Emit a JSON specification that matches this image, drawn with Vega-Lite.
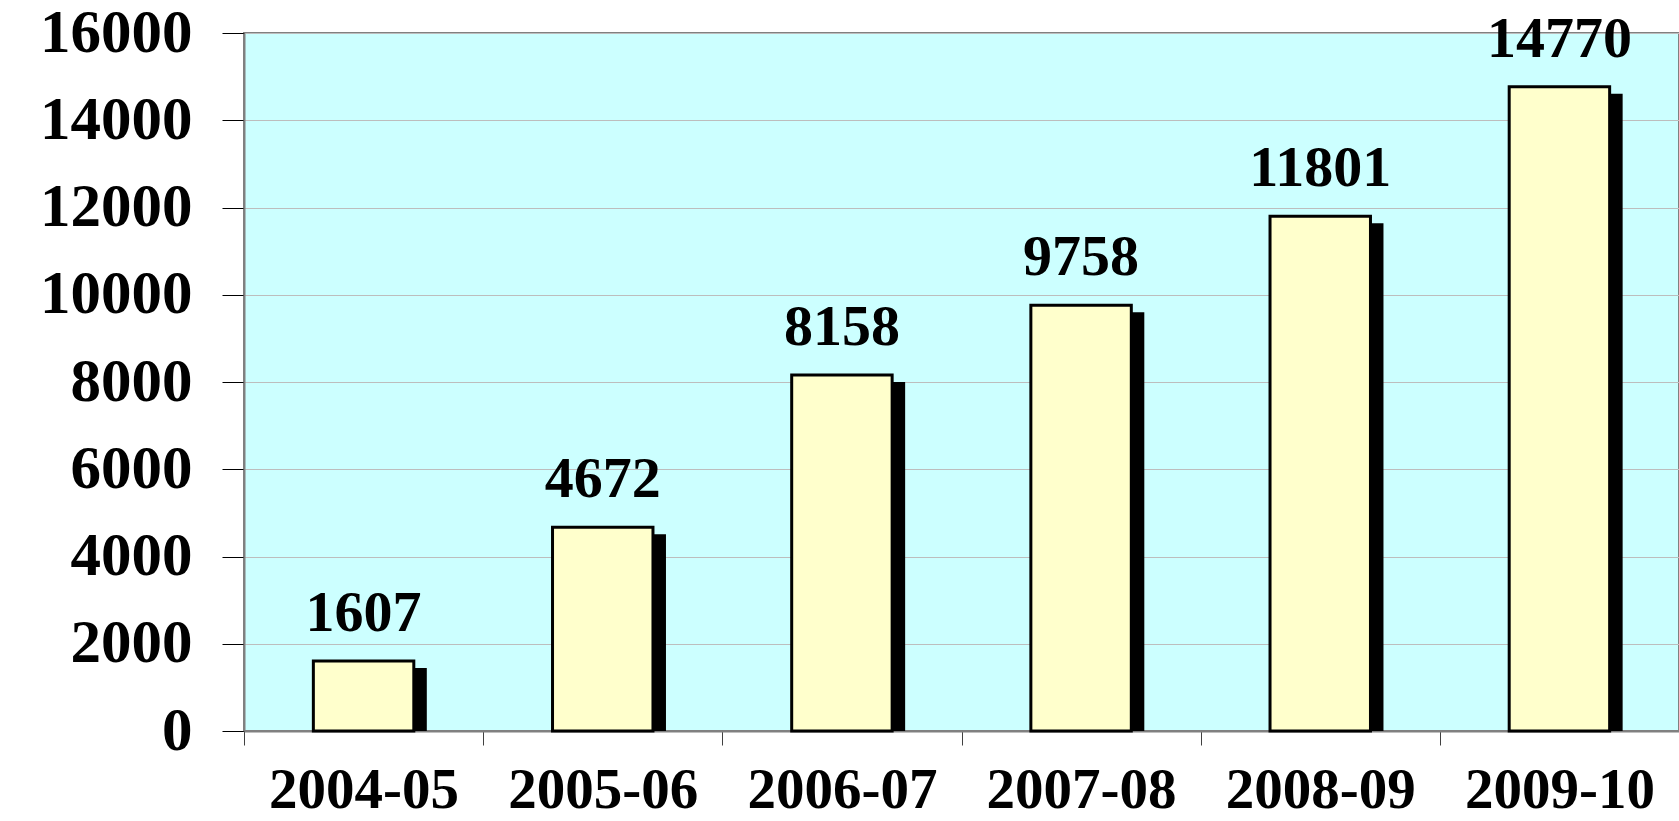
{
  "$schema": "https://vega.github.io/schema/vega-lite/v6.json",
  "width": 1435,
  "height": 698,
  "autosize": {"type": "none"},
  "padding": {"left": 244, "top": 33, "right": 0, "bottom": 90},
  "background": "white",
  "config": {
    "view": {"fill": "#CCFFFF", "stroke": "#808080", "strokeWidth": 2},
    "font": "Liberation Serif"
  },
  "data": {
    "values": [
      {"year": "2004-05", "value": 1607},
      {"year": "2005-06", "value": 4672},
      {"year": "2006-07", "value": 8158},
      {"year": "2007-08", "value": 9758},
      {"year": "2008-09", "value": 11801},
      {"year": "2009-10", "value": 14770}
    ]
  },
  "encoding": {
    "x": {
      "field": "year", "type": "nominal", "sort": null,
      "scale": {"paddingInner": 0, "paddingOuter": 0},
      "axis": {
        "title": null, "labelAngle": 0, "tickBand": "extent", "labelLimit": 0,
        "labelFont": "Liberation Serif", "labelFontWeight": "bold", "labelFontSize": 57, "labelColor": "black",
        "labelBaseline": "alphabetic", "labelPadding": 62, "tickSize": 14, "tickColor": "#404040", "tickWidth": 1,
        "domainColor": "#808080", "domainWidth": 2
      }
    },
    "y": {
      "field": "value", "type": "quantitative",
      "scale": {"domain": [0, 16000], "nice": false},
      "axis": {
        "title": null, "values": [0, 2000, 4000, 6000, 8000, 10000, 12000, 14000, 16000],
        "format": "d", "labelLimit": 0,
        "labelFont": "Liberation Serif", "labelFontWeight": "bold", "labelFontSize": 61, "labelColor": "black",
        "labelPadding": 30, "tickSize": 22, "tickColor": "black", "tickWidth": 1,
        "domainColor": "#808080", "domainWidth": 2,
        "grid": true, "gridColor": "#BDBDBD", "gridWidth": 1
      }
    }
  },
  "layer": [
    {
      "mark": {"type": "bar", "color": "black", "clip": true, "width": {"band": 0.42}, "xOffset": 13, "yOffset": 7}
    },
    {
      "mark": {"type": "bar", "fill": "#FFFFCC", "stroke": "black", "strokeWidth": 3, "width": {"band": 0.42}}
    },
    {
      "mark": {"type": "text", "baseline": "alphabetic", "dy": -30, "fontSize": 58, "fontWeight": "bold", "font": "Liberation Serif", "color": "black"},
      "encoding": {"text": {"field": "value", "type": "quantitative", "format": "d"}}
    }
  ]
}
